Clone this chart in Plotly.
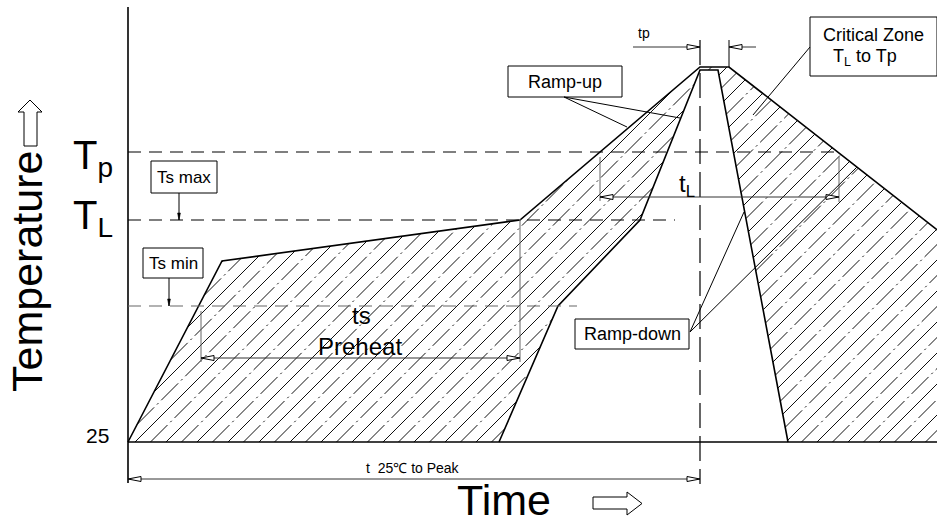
import plotly.graph_objects as go

# ---- reflow profile (time units along x, temperature units along y) ----
# Outer envelope of the profile window
OUTER_TIME = [0, 94, 392, 572, 601, 840]
OUTER_TEMP = [25, 206, 247, 400, 400, 213]
# Inner (fast) profile
INNER_TIME = [371, 430, 512, 572, 590, 660]
INNER_TEMP = [25, 161, 247, 397, 397, 25]

# Temperature levels
T_AMBIENT = 25
TS_MIN = 161
T_LIQUIDUS = 247          # also Ts max
T_PEAK_LINE = 315

# Time marks
SOAK_START = 73
SOAK_END = 392
TL_START = 472
TL_END = 711
PEAK_TIME = 572
PEAK_END = 601

# Hatch settings
HATCH_STEP = 15.5

FONT = "Liberation Sans, Arial, sans-serif"

X_RANGE = [-128, 809]
Y_RANGE = [-57, 467]


def hatch_segments(poly, offset):
    """Clip the 45-degree line temp = time + offset against polygon `poly`."""
    hits = []
    n = len(poly)
    for i in range(n):
        (x1, y1), (x2, y2) = poly[i], poly[(i + 1) % n]
        f1 = y1 - x1 - offset
        f2 = y2 - x2 - offset
        if (f1 > 0) != (f2 > 0):
            s = f1 / (f1 - f2)
            hits.append(x1 + s * (x2 - x1))
    hits.sort()
    segs = []
    for a, b in zip(hits[0::2], hits[1::2]):
        segs.append(((a, a + offset), (b, b + offset)))
    return segs


# hatched region: outer envelope down to ambient, minus the inner profile
region = list(zip(OUTER_TIME, OUTER_TEMP)) + [(OUTER_TIME[-1], T_AMBIENT)] + \
    list(zip(INNER_TIME, INNER_TEMP))[::-1]

offsets_lo = min(y - x for x, y in region)
offsets_hi = max(y - x for x, y in region)

solid_x, solid_y, dash_x, dash_y = [], [], [], []
off = T_AMBIENT - 7
while off + HATCH_STEP < offsets_hi:
    off += HATCH_STEP
idx = 0
o = off
while o > offsets_lo:
    for (a, b) in hatch_segments(region, o):
        tx, ty = (solid_x, solid_y) if idx % 2 == 0 else (dash_x, dash_y)
        tx += [a[0], b[0], None]
        ty += [a[1], b[1], None]
    o -= HATCH_STEP
    idx += 1

fig = go.Figure()
fig.add_trace(go.Scatter(x=solid_x, y=solid_y, mode="lines",
                         line=dict(color="#111111", width=1),
                         hoverinfo="skip", showlegend=False))
fig.add_trace(go.Scatter(x=dash_x, y=dash_y, mode="lines",
                         line=dict(color="#111111", width=1, dash="24px,4px,2px,4px"),
                         hoverinfo="skip", showlegend=False))
fig.add_trace(go.Scatter(x=OUTER_TIME, y=OUTER_TEMP, mode="lines",
                         line=dict(color="black", width=1.6),
                         hoverinfo="skip", showlegend=False))
fig.add_trace(go.Scatter(x=INNER_TIME, y=INNER_TEMP, mode="lines",
                         line=dict(color="black", width=1.6),
                         hoverinfo="skip", showlegend=False))

shapes = []


def line(x0, y0, x1, y1, color="black", width=1.0, dash=None):
    d = dict(type="line", xref="x", yref="y", x0=x0, y0=y0, x1=x1, y1=y1,
             line=dict(color=color, width=width))
    if dash:
        d["line"]["dash"] = dash
    shapes.append(d)


def arrowhead(tip_x, tip_y, dx, dy, length=13, half=2.5, fill="white", width=1.0):
    bx, by = tip_x - dx * length, tip_y - dy * length
    px, py = -dy, dx
    path = (f"M {tip_x},{tip_y} L {bx + px * half},{by + py * half} "
            f"L {bx - px * half},{by - py * half} Z")
    shapes.append(dict(type="path", xref="x", yref="y", path=path,
                       fillcolor=fill, line=dict(color="black", width=width)))


def rect(x0, y0, x1, y1):
    shapes.append(dict(type="rect", xref="x", yref="y", x0=x0, y0=y0, x1=x1, y1=y1,
                       fillcolor="white", line=dict(color="black", width=1)))


def hollow_poly(points):
    path = "M " + " L ".join(f"{x},{y}" for x, y in points) + " Z"
    shapes.append(dict(type="path", xref="x", yref="y", path=path,
                       fillcolor="white", line=dict(color="black", width=1)))


# axes
line(0, 460, 0, -16, width=1.6)
line(0, T_AMBIENT, X_RANGE[1], T_AMBIENT, width=1.6)

# reference temperature levels
line(0, T_PEAK_LINE, TL_END, T_PEAK_LINE, dash="13px,8px", width=1.1)
line(0, T_LIQUIDUS, 547, T_LIQUIDUS, dash="13px,8px", width=1.1)
line(0, TS_MIN, 449, TS_MIN, color="#666666", dash="13px,8px", width=1.1)

# peak centre line
line(PEAK_TIME, 427, PEAK_TIME, -17, dash="25px,8px", width=1.2)

# tp dimension
line(PEAK_END, 427, PEAK_END, 400, width=1)
line(505, 420, PEAK_TIME, 420, color="#333333")
line(PEAK_END, 420, 628, 420, color="#333333")
arrowhead(PEAK_TIME, 420, 1, 0)
arrowhead(PEAK_END, 420, -1, 0)

# ts (preheat) dimension
line(SOAK_START, 156, SOAK_START, 105, color="#666666")
line(SOAK_END, 248, SOAK_END, 105, color="#666666")
line(SOAK_START, 109, SOAK_END, 109, color="#333333")
arrowhead(SOAK_START, 109, -1, 0)
arrowhead(SOAK_END, 109, 1, 0)

# tL dimension
line(TL_START, 310, TL_START, 266, color="#666666")
line(TL_END, 310, TL_END, 265, color="#666666")
line(TL_START, 270, TL_END, 270, color="#333333")
arrowhead(TL_START, 270, -1, 0)
arrowhead(TL_END, 270, 1, 0)

# t 25C to peak dimension
line(0, -12, PEAK_TIME, -12, color="#333333")
arrowhead(0, -12, -1, 0)
arrowhead(PEAK_TIME, -12, 1, 0)

# callout boxes and leaders
rect(23, 306, 89, 274)                       # Ts max
line(51, 274, 51, T_LIQUIDUS)
arrowhead(51, T_LIQUIDUS, 0, -1, length=7, half=1.4, fill="black", width=0.6)

rect(15, 219, 75, 189)                       # Ts min
line(41, 189, 41, TS_MIN)
arrowhead(41, TS_MIN, 0, -1, length=7, half=1.4, fill="black", width=0.6)

rect(380, 401, 494, 370)                     # Ramp-up
line(436, 370, 499, 340)
line(436, 370, 552, 349)

rect(447, 148, 561, 118)                     # Ramp-down
line(562, 135, 616, 255)
line(562, 135, 729, 300)

rect(682, 450, 809, 391)                     # Critical zone
line(682, 420, 625, 352)

# hollow direction arrows
hollow_poly([(-104, 321), (-91, 321), (-91, 355), (-86, 355), (-98, 367),
             (-110, 355), (-104, 355)])
hollow_poly([(465, -30), (499, -30), (499, -25), (514, -36.5), (499, -48),
             (499, -42), (465, -42)])

annotations = []


def text(x, y, s, size, xanchor="center", yanchor="middle", angle=0):
    annotations.append(dict(x=x, y=y, xref="x", yref="y", text=s, showarrow=False,
                            xanchor=xanchor, yanchor=yanchor, textangle=angle,
                            font=dict(family=FONT, size=size, color="black")))


text(-101, 195, "Temperature", 43, angle=-90)
text(376, -33, "Time", 43)
text(-57, 309, "T<sub>p</sub>", 40, xanchor="left")
text(-57, 249, "T<sub>L</sub>", 40, xanchor="left")
text(-31, 32, "25", 21)
text(56, 290, "Ts max", 17)
text(45, 204, "Ts min", 17)
text(437, 385.5, "Ramp-up", 18)
text(504, 133, "Ramp-down", 18)
text(745, 432, "Critical Zone", 18)
text(737, 410, "T<sub>L</sub> to Tp", 18)
text(516, 434, "tp", 14)
text(233, 152, "ts", 24)
text(232, 121, "Preheat", 24)
text(559, 282, "t<sub>L</sub>", 24)
text(285, -1, "t  25℃ to Peak", 14)

fig.update_layout(
    width=937, height=524,
    margin=dict(l=0, r=0, t=0, b=0),
    paper_bgcolor="white", plot_bgcolor="white",
    xaxis=dict(range=X_RANGE, visible=False, fixedrange=True),
    yaxis=dict(range=Y_RANGE, visible=False, fixedrange=True),
    shapes=shapes, annotations=annotations,
    showlegend=False,
)

fig.write_html("out.html")
